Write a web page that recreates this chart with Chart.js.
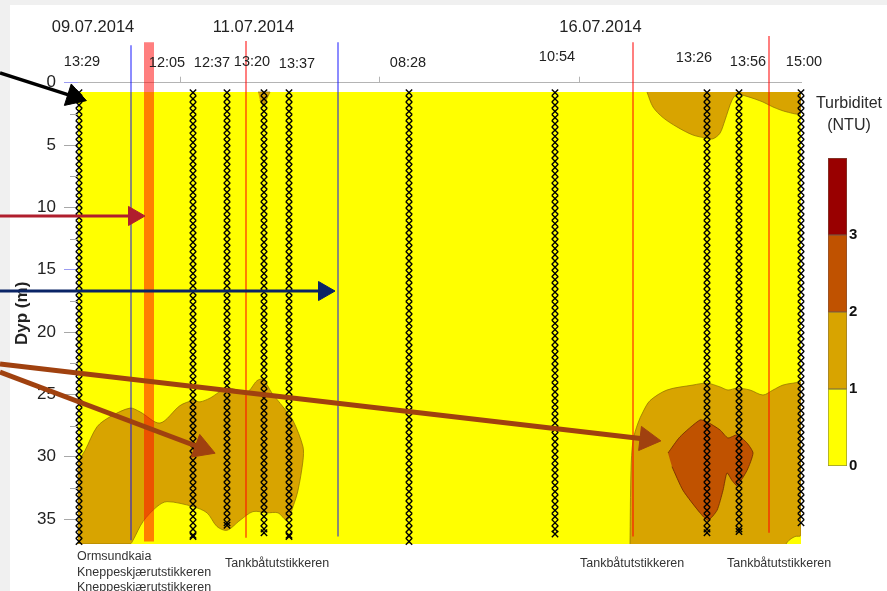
<!DOCTYPE html>
<html lang="no">
<head>
<meta charset="utf-8">
<title>Turbiditet – profiler</title>
<script src="https://cdn.jsdelivr.net/npm/chart.js@4.4.1/dist/chart.umd.min.js"></script>
<style>
  html, body { margin: 0; padding: 0; background: #f0f0f0; }
  #page { position: relative; width: 887px; height: 591px; overflow: hidden;
          font-family: "Liberation Sans", Arial, sans-serif; }
  #panel { position: absolute; left: 10px; top: 5px; right: 0; bottom: 0; background: #fff; }
  #main { position: absolute; left: 0; top: 0; }
  #bar { position: absolute; left: 800px; top: 140px; }
  .cap { position: absolute; left: 800px; width: 98px; text-align: center;
         font-size: 16px; line-height: 18px; color: #2a2a2a; }
</style>
</head>
<body>
<div id="page">
  <div id="panel"></div>
  <canvas id="main" width="887" height="591"></canvas>
  <div class="cap" style="top:94px">Turbiditet</div>
  <div class="cap" style="top:116px">(NTU)</div>
  <canvas id="bar" width="87" height="340"></canvas>
</div>
<script>
// ---------------- data ----------------
// horizontal position along the survey (axis units), depth in metres
const dates = ['09.07.2014', '11.07.2014', '16.07.2014'];
const dateX = [-0.435, 0.3675, 2.1025];

const profileTimes = ['13:29', '12:05', '12:37', '13:20', '13:37', '08:28', '10:54', '13:26', '13:56', '15:00'];
const timeLabelX   = [-0.49, -0.065, 0.16, 0.36, 0.585, 1.14, 1.885, 2.57, 2.84, 3.12];
const profileX     = [-0.505, 0.065, 0.235, 0.42, 0.545, 1.145, 1.875, 2.635, 2.795, 3.105];
const profileMaxDepth = [36.8, 36.4, 35.5, 36.1, 36.4, 36.8, 36.2, 36.1, 36.0, 35.3];

// logged sample depths of the CTD casts (m)
const sampleDepths = [0.8, 1.3, 1.8, 2.3, 2.8, 3.3, 3.8, 4.3, 4.8, 5.3, 5.8, 6.3, 6.8, 7.3, 7.8,
  8.3, 8.8, 9.3, 9.8, 10.3, 10.8, 11.3, 11.8, 12.3, 12.8, 13.3, 13.8, 14.3, 14.8, 15.3, 15.8,
  16.3, 16.8, 17.3, 17.8, 18.3, 18.8, 19.3, 19.8, 20.3, 20.8, 21.3, 21.8, 22.3, 22.8, 23.3,
  23.8, 24.3, 24.8, 25.3, 25.8, 26.3, 26.8, 27.3, 27.8, 28.3, 28.8, 29.3, 29.8, 30.3, 30.8,
  31.3, 31.8, 32.3, 32.8, 33.3, 33.8, 34.3, 34.8, 35.3, 35.8, 36.3, 36.8];

// extent of the gridded section
const sectionX = [-0.51, 3.105];
const sectionDepth = [0.75, 37];

// contour polygons [x, depth]
const level1LeftBottom = [[-0.51, 30.4], [-0.475, 29.5], [-0.415, 27.6], [-0.35, 26.8], [-0.25, 26.1],
  [-0.2, 26.4], [-0.1, 27.3], [0.0, 25.9], [0.065, 25.5], [0.1, 25.6], [0.15, 25.3], [0.235, 24.5],
  [0.335, 24.8], [0.385, 23.9], [0.415, 23.8], [0.46, 24.9], [0.515, 26.0], [0.565, 27.1],
  [0.615, 29.2], [0.615, 30.3], [0.59, 32.7], [0.565, 34.0], [0.535, 35.1], [0.49, 34.5],
  [0.435, 34.5], [0.365, 34.4], [0.3, 35.1], [0.235, 35.9], [0.185, 35.6], [0.135, 34.5],
  [0.065, 34.0], [-0.065, 33.6], [-0.115, 34.0], [-0.185, 35.2], [-0.235, 36.7], [-0.25, 37],
  [-0.51, 37]];
const level1Surface1320 = [[0.39, 0.75], [0.45, 0.75], [0.43, 1.4], [0.415, 1.85], [0.40, 1.4]];
const level1RightTop = [[2.335, 0.75], [2.365, 1.95], [2.415, 2.8], [2.485, 3.55], [2.565, 4.2],
  [2.635, 4.45], [2.665, 4.5], [2.70, 4.05], [2.725, 3.0], [2.76, 1.4], [2.785, 0.95], [2.835, 1.1],
  [2.915, 1.55], [2.965, 1.95], [3.035, 2.35], [3.105, 2.45], [3.105, 0.75]];
const level1RightBottom = [[2.25, 37], [2.255, 31.1], [2.265, 28.7], [2.29, 27.3], [2.315, 26.4],
  [2.35, 25.5], [2.435, 24.65], [2.565, 24.25], [2.635, 24.1], [2.70, 24.4], [2.74, 24.65],
  [2.785, 24.5], [2.85, 24.65], [2.915, 25.05], [2.965, 24.65], [3.015, 24.25], [3.065, 24.1],
  [3.105, 24.1], [3.105, 36.3], [3.075, 36.4], [3.045, 36.7], [3.03, 37]];
const level2RightBottom = [[2.44, 29.7], [2.5, 28.4], [2.6, 27.05], [2.635, 27.2], [2.70, 27.85],
  [2.74, 28.5], [2.785, 28.25], [2.835, 28.9], [2.865, 29.7], [2.835, 31.1], [2.785, 32.3],
  [2.76, 31.9], [2.735, 31.3], [2.715, 32.7], [2.685, 34.3], [2.64, 35.1], [2.60, 34.5],
  [2.515, 32.7], [2.46, 30.8]];

// event markers: x, top and bottom of each line
const eventX      = [-0.245, -0.155, 0.33, 0.79, 2.265, 2.945];
const eventTop    = [-3.0, -3.25, -3.35, -3.25, -3.25, -3.75];
const eventBottom = [36.7, 36.8, 36.5, 36.4, 36.4, 36.1];
const eventKind   = ['blue', 'band', 'red', 'blue', 'red', 'red'];

// pointer arrows: tail and head centre [x, depth]
const arrowFrom = [[-0.9, -0.78], [-0.9, 10.69], [-0.9, 16.71], [-0.9, 23.21], [-0.9, 22.57]];
const arrowHead = [[-0.53, 1.12], [-0.23, 10.69], [0.72, 16.71], [0.11, 29.32], [2.335, 28.6]];

const stationLabels = ['Ormsundkaia', 'Kneppeskjærutstikkeren', 'Kneppeskjærutstikkeren',
  'Tankbåtutstikkeren', 'Tankbåtutstikkeren', 'Tankbåtutstikkeren'];
const stationLabelX = [-0.515, -0.515, -0.515, 0.225, 2.0, 2.735];

const yTicks = [0, 5, 10, 15, 20, 25, 30, 35];
const yMinorTicks = [2.5, 7.5, 12.5, 17.5, 22.5, 27.5, 32.5];

const turbidityEdges = [0, 1, 2, 3, 4];
const turbidityTickLabels = ['0', '1', '2', '3'];

// ---------------- styles ----------------
const FONT = '"Liberation Sans", Arial, sans-serif';
const COL = { yellow: '#ffff00', gold: '#d8a400', orange: '#c05200', darkred: '#990000' };
const eventStyle = {
  blue: { color: 'rgba(0,0,255,0.45)', width: 2 },
  red:  { color: 'rgba(255,0,0,0.5)', width: 2 },
  band: { color: 'rgba(255,0,0,0.5)', width: 10 }
};
const arrowStyle = [
  { color: '#000000', width: 3.5, head: 13 },
  { color: '#b01e2d', width: 3, head: 11 },
  { color: '#0a2466', width: 3, head: 11 },
  { color: '#a0410f', width: 5, head: 14 },
  { color: '#a0410f', width: 5, head: 14 }
];
const timeLabelRise = [20.7, 19.7, 19.7, 20.7, 18.7, 19.7, 25.7, 24.7, 20.7, 20.7];
const stationLabelDrop = [13, 29, 44, 20, 20, 20];

// ---------------- datasets ----------------
const toPts = arr => arr.map(p => ({ x: p[0], y: p[1] }));
function polygon(points, fill, edge, order, tension) {
  return {
    data: toPts(points), showLine: true, fill: 'shape',
    backgroundColor: fill, borderColor: edge, borderWidth: 1,
    pointRadius: 0, tension: tension, order: order
  };
}

const datasets = [];
datasets.push(polygon([[sectionX[0], sectionDepth[0]], [sectionX[1], sectionDepth[0]],
  [sectionX[1], sectionDepth[1]], [sectionX[0], sectionDepth[1]]], COL.yellow, 'transparent', 100, 0));
datasets.push(polygon(level1LeftBottom, COL.gold, 'rgba(140,110,0,0.7)', 90, 0.3));
datasets.push(polygon(level1Surface1320, COL.gold, 'rgba(140,110,0,0.7)', 90, 0));
datasets.push(polygon(level1RightTop, COL.gold, 'rgba(140,110,0,0.7)', 90, 0.3));
datasets.push(polygon(level1RightBottom, COL.gold, 'rgba(140,110,0,0.7)', 90, 0.3));
datasets.push(polygon(level2RightBottom, COL.orange, 'rgba(110,40,0,0.8)', 80, 0.2));

eventX.forEach((x, i) => {
  const st = eventStyle[eventKind[i]];
  datasets.push({
    data: [{ x: x, y: eventTop[i] }, { x: x, y: eventBottom[i] }],
    showLine: true, borderColor: st.color, borderWidth: st.width,
    pointRadius: 0, clip: false, order: 50
  });
});

profileX.forEach((x, i) => {
  const depths = sampleDepths.filter(d => d <= profileMaxDepth[i]);
  if (depths[depths.length - 1] < profileMaxDepth[i]) depths.push(profileMaxDepth[i]);
  datasets.push({
    data: depths.map(d => ({ x: x, y: d })),
    showLine: false, pointStyle: 'crossRot', pointRadius: 4.5,
    pointBorderColor: '#000', pointBackgroundColor: '#000', pointBorderWidth: 1.4,
    clip: false, order: 20
  });
});

function headRotation(c) {
  const d = c.dataset.data, xs = c.chart.scales.x, ys = c.chart.scales.y;
  const dx = xs.getPixelForValue(d[1].x) - xs.getPixelForValue(d[0].x);
  const dy = ys.getPixelForValue(d[1].y) - ys.getPixelForValue(d[0].y);
  return Math.atan2(dy, dx) * 180 / Math.PI + 90;
}
arrowFrom.forEach((p, i) => {
  const st = arrowStyle[i];
  datasets.push({
    data: toPts([p, arrowHead[i]]),
    showLine: true, borderColor: st.color, borderWidth: st.width,
    pointStyle: 'triangle', pointRadius: [0, st.head], pointRotation: headRotation,
    pointBackgroundColor: st.color, pointBorderColor: st.color, pointBorderWidth: 1,
    clip: false, order: 10
  });
});

// ---------------- annotation text and minor ticks ----------------
const annotations = {
  id: 'annotations',
  afterDraw(chart) {
    const ctx = chart.ctx, xs = chart.scales.x, ys = chart.scales.y, area = chart.chartArea;
    ctx.save();
    // minor depth ticks
    ctx.strokeStyle = '#a8a8a8';
    ctx.lineWidth = 1;
    yMinorTicks.forEach(v => {
      const y = Math.round(ys.getPixelForValue(v)) + 0.5;
      ctx.beginPath(); ctx.moveTo(area.left - 8, y); ctx.lineTo(area.left, y); ctx.stroke();
    });
    ctx.fillStyle = '#222';
    ctx.textAlign = 'center';
    ctx.textBaseline = 'middle';
    ctx.font = '16.5px ' + FONT;
    dates.forEach((t, i) => ctx.fillText(t, xs.getPixelForValue(dateX[i]), 27));
    ctx.font = '14.5px ' + FONT;
    profileTimes.forEach((t, i) =>
      ctx.fillText(t, xs.getPixelForValue(timeLabelX[i]), area.top - timeLabelRise[i]));
    ctx.fillStyle = '#333';
    ctx.textAlign = 'left';
    ctx.font = '12.5px ' + FONT;
    stationLabels.forEach((t, i) =>
      ctx.fillText(t, xs.getPixelForValue(stationLabelX[i]), area.bottom + stationLabelDrop[i]));
    ctx.restore();
  }
};

new Chart(document.getElementById('main'), {
  type: 'scatter',
  data: { datasets: datasets },
  options: {
    responsive: false, animation: false, devicePixelRatio: 1, events: [],
    layout: { padding: { left: 0, top: 0, right: 86, bottom: 47 } },
    plugins: { legend: { display: false }, tooltip: { enabled: false } },
    scales: {
      x: {
        type: 'linear', position: 'top', min: sectionX[0], max: sectionX[1],
        ticks: { display: false, stepSize: 1 },
        afterBuildTicks: s => { s.ticks = s.ticks.filter(t => Number.isInteger(t.value)); },
        afterFit: s => { s.height = 82.7; },
        grid: { drawOnChartArea: false, drawTicks: true, tickLength: 6, color: '#b4b4b4' },
        border: { display: true, color: '#b4b4b4', width: 1 }
      },
      y: {
        type: 'linear', reverse: true, min: 0, max: sectionDepth[1],
        ticks: { stepSize: 5, color: '#222', font: { size: 17, family: FONT }, padding: 8 },
        afterBuildTicks: s => { s.ticks = yTicks.map(v => ({ value: v })); },
        afterFit: s => { s.width = 78; },
        grid: {
          drawOnChartArea: false, drawTicks: true, tickLength: 14, tickWidth: 1,
          tickColor: c => (c.tick && (c.tick.value === 0 || c.tick.value === 15)) ? '#9b9bf0' : '#a8a8a8'
        },
        border: { display: false },
        title: {
          display: true, text: 'Dyp (m)', color: '#222',
          font: { size: 17, weight: 'bold', family: FONT }, padding: { top: 12, bottom: 0 }
        }
      }
    }
  },
  plugins: [annotations]
});

// ---------------- colour scale ----------------
const bandColors = [COL.yellow, COL.gold, COL.orange, COL.darkred];
const bandEdges = ['rgba(120,120,0,0.8)', 'rgba(120,90,0,0.8)', 'rgba(110,40,0,0.8)', 'rgba(90,20,0,0.8)'];
new Chart(document.getElementById('bar'), {
  type: 'bar',
  data: {
    labels: [''],
    datasets: bandColors.map((c, i) => ({
      data: [[turbidityEdges[i], turbidityEdges[i + 1]]],
      backgroundColor: c, borderColor: bandEdges[i], borderWidth: 1, borderSkipped: false,
      barPercentage: 1, categoryPercentage: 1, grouped: false
    }))
  },
  options: {
    responsive: false, animation: false, devicePixelRatio: 1, events: [],
    layout: { padding: { left: 28, top: 18, bottom: 14, right: 0 } },
    plugins: { legend: { display: false }, tooltip: { enabled: false } },
    scales: {
      x: { display: false },
      y: {
        position: 'right', min: turbidityEdges[0], max: turbidityEdges[turbidityEdges.length - 1],
        ticks: {
          stepSize: 1, padding: 2, color: '#111', font: { size: 15, weight: 'bold', family: FONT },
          callback: (v, i) => turbidityTickLabels[i]
        },
        afterBuildTicks: s => { s.ticks = turbidityTickLabels.map(t => ({ value: Number(t) })); },
        afterFit: s => { s.width = 40; },
        grid: { display: false, drawTicks: false },
        border: { display: false }
      }
    }
  }
});
</script>
</body>
</html>
